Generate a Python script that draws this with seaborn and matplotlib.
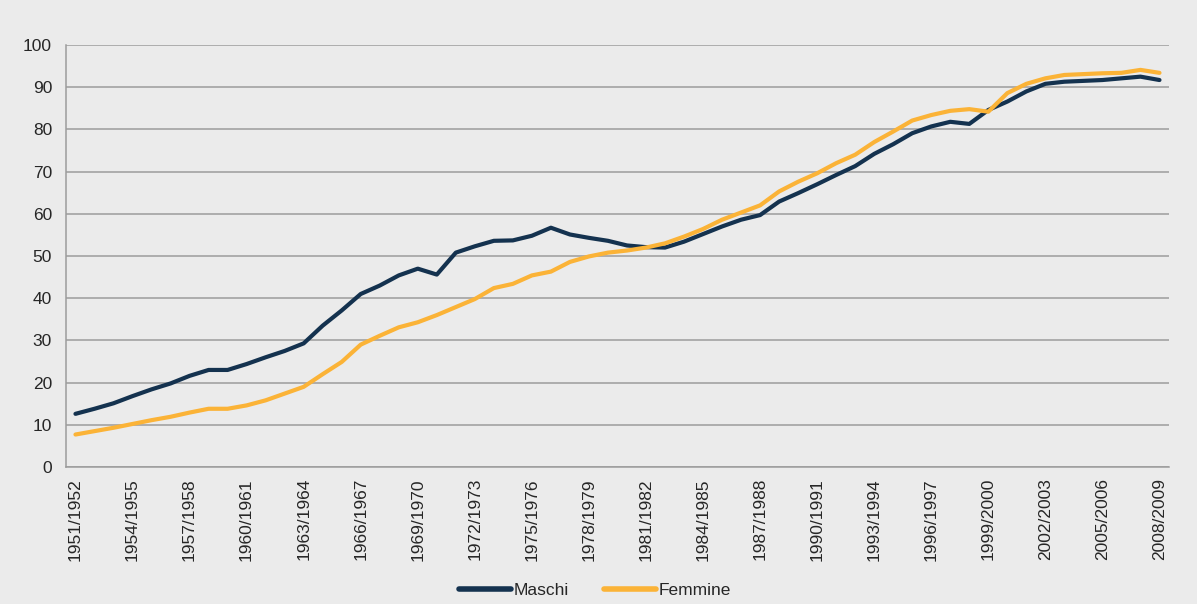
import numpy as np
import pandas as pd
import matplotlib
matplotlib.use("Agg")
import matplotlib.pyplot as plt
import seaborn as sns

# anni scolastici
anni = [f"{a}/{a + 1}" for a in range(1951, 2009)]

maschi = [12.6, 13.8, 15.1, 16.8, 18.4, 19.8, 21.6, 23.0, 23.0, 24.4,
          26.0, 27.5, 29.3, 33.5, 37.1, 41.0, 43.0, 45.4, 47.0, 45.6,
          50.8, 52.3, 53.6, 53.7, 54.8, 56.7, 55.1, 54.3, 53.6, 52.5,
          52.1, 52.0, 53.4, 55.2, 57.0, 58.6, 59.7, 62.9, 64.9, 67.0,
          69.2, 71.3, 74.2, 76.5, 79.1, 80.7, 81.8, 81.3, 84.6, 86.6,
          89.0, 90.8, 91.3, 91.5, 91.7, 92.1, 92.5, 91.7]

femmine = [7.7, 8.5, 9.3, 10.2, 11.1, 11.9, 12.9, 13.8, 13.8, 14.6,
           15.8, 17.4, 19.0, 22.0, 24.9, 29.0, 31.1, 33.1, 34.3, 36.0,
           37.9, 39.8, 42.4, 43.4, 45.4, 46.3, 48.6, 49.9, 50.8, 51.3,
           52.0, 53.0, 54.6, 56.4, 58.6, 60.3, 62.0, 65.3, 67.6, 69.6,
           72.0, 74.0, 77.0, 79.5, 82.1, 83.4, 84.4, 84.8, 84.2, 88.6,
           90.8, 92.1, 92.9, 93.1, 93.3, 93.4, 94.1, 93.4]

serie = ["Maschi", "Femmine"]
colori = {"Maschi": "#14324f", "Femmine": "#fbb337"}

df = pd.DataFrame({
    "pos": list(range(len(anni))) * 2,
    "valore": maschi + femmine,
    "sesso": ["Maschi"] * len(anni) + ["Femmine"] * len(anni),
})

sns.set_style("white")
plt.rcParams["font.family"] = ["Liberation Sans", "DejaVu Sans"]

bg = "#ebebeb"
fig = plt.figure(figsize=(11.97, 6.04), dpi=100, facecolor=bg)
ax = fig.add_axes([0.0551, 0.2268, 0.9215, 0.6987])
ax.set_facecolor(bg)

sns.lineplot(data=df, x="pos", y="valore", hue="sesso", hue_order=serie,
             palette=colori, linewidth=3.0, ax=ax, legend=False)

ax.set_xlim(-0.5, len(anni) - 0.5)
ax.set_ylim(0, 100)
ax.set_yticks(np.arange(0, 101, 10))
ax.yaxis.grid(True, color="#9c9c9c", linewidth=1.1)
ax.set_axisbelow(True)

pos_lab = np.arange(0, len(anni), 3)
ax.set_xticks(pos_lab)
ax.set_xticklabels([anni[i] for i in pos_lab], rotation=90)
ax.set_xticks(np.arange(-0.5, len(anni)), minor=True)
ax.tick_params(axis="x", which="major", length=0, pad=8, labelsize=12.5)
ax.tick_params(axis="x", which="minor", length=6, color="#9c9c9c", width=1)
ax.tick_params(axis="y", length=6, color="#9c9c9c", width=1, labelsize=12.5, pad=4)

for s in ["top", "right"]:
    ax.spines[s].set_visible(False)
for s in ["left", "bottom"]:
    ax.spines[s].set_color("#9c9c9c")
    ax.spines[s].set_linewidth(1.1)

ax.set_xlabel("")
ax.set_ylabel("")

handles = [plt.Line2D([], [], color=colori[s], linewidth=4) for s in serie]
fig.legend(handles, serie, loc="center", bbox_to_anchor=(0.497, 0.022), ncol=2,
           frameon=False, fontsize=12.5, handlelength=3.0, handletextpad=0.15,
           columnspacing=2.0)

fig.savefig("out.png", dpi=100, facecolor=bg)
